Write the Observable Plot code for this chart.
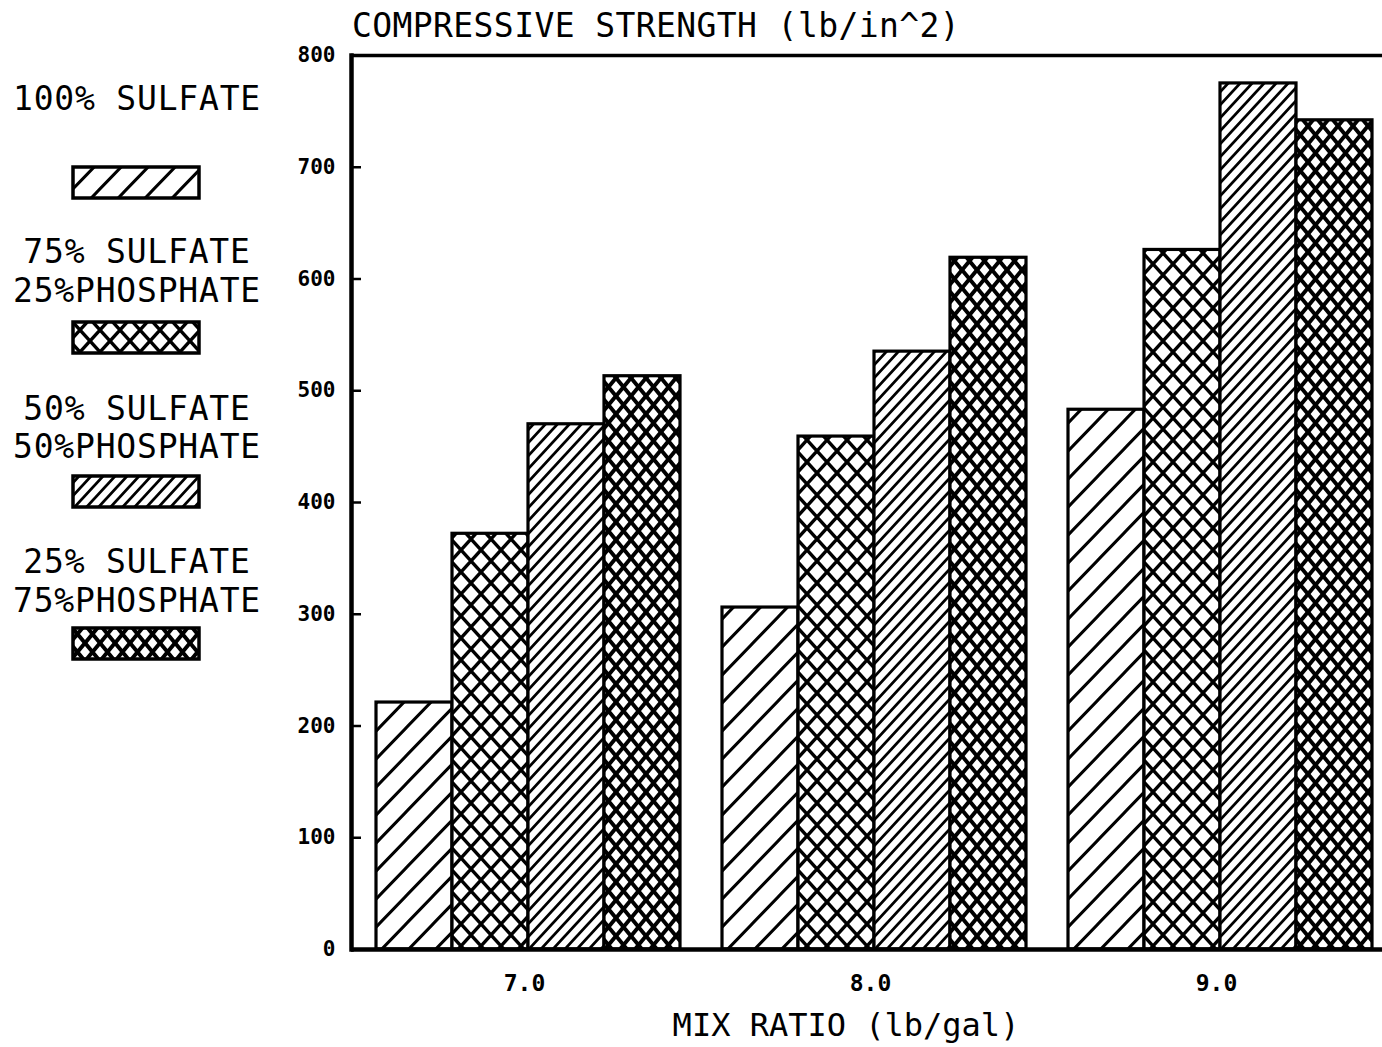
<!DOCTYPE html>
<html>
<head>
<meta charset="utf-8">
<script src="https://cdn.jsdelivr.net/npm/d3@7"></script>
<script src="https://cdn.jsdelivr.net/npm/@observablehq/plot@0.6"></script>
<style>
  html, body { margin: 0; padding: 0; background: #fff; overflow: hidden; }
  #wrap { position: relative; width: 1382px; height: 1047px; overflow: hidden; background: #fff;
          font-family: "DejaVu Sans Mono", monospace; color: #000; }
  #chart { position: absolute; left: 0; top: 0; }
  #chart svg { max-width: none !important; }
  .txt { position: absolute; font-size: 33px; line-height: 33px; white-space: pre; }
  .sw { position: absolute; }
</style>
</head>
<body>
<svg width="0" height="0" style="position:absolute">
  <defs id="defs"></defs>
</svg>
<div id="wrap">
  <div id="chart"></div>
</div>
<script>
// ---- data ----
const groups = ["7.0", "8.0", "9.0"];
const seriesNames = [
  "100% SULFATE",
  "75% SULFATE\n25%PHOSPHATE",
  "50% SULFATE\n50%PHOSPHATE",
  "25% SULFATE\n75%PHOSPHATE"
];
const sulfate100 = [221, 306, 483];
const sulfate75 = [372, 459, 626];
const sulfate50 = [470, 535, 775];
const sulfate25 = [513, 619, 742];
const yTicks = [0, 100, 200, 300, 400, 500, 600, 700, 800];
const titleText = "COMPRESSIVE STRENGTH (lb/in^2)";
const xLabelText = "MIX RATIO (lb/gal)";

const seriesValues = [sulfate100, sulfate75, sulfate50, sulfate25];
const data = groups.flatMap((g, i) =>
  seriesNames.map((s, j) => ({group: g, series: s, value: seriesValues[j][i]}))
);

// ---- hatch patterns ----
const patterns = [
  {id: "p1", h: 27, v: 28, sw: 3, cross: false},
  {id: "p2", h: 20, v: 22, sw: 3.4, cross: true},
  {id: "p3", h: 12, v: 13, sw: 2.8, cross: false},
  {id: "p4", h: 15, v: 18, sw: 4, cross: true}
];
const defs = document.getElementById("defs");
const ns = "http://www.w3.org/2000/svg";
for (const p of patterns) {
  const pat = document.createElementNS(ns, "pattern");
  pat.setAttribute("id", p.id);
  pat.setAttribute("patternUnits", "userSpaceOnUse");
  pat.setAttribute("width", p.h);
  pat.setAttribute("height", p.v);
  const {h, v} = p;
  let d = `M0,${v}L${h},0M${-h/2},${v/2}L${h/2},${-v/2}M${h/2},${3*v/2}L${3*h/2},${v/2}`;
  if (p.cross) d += `M0,0L${h},${v}M${h/2},${-v/2}L${3*h/2},${v/2}M${-h/2},${v/2}L${h/2},${3*v/2}`;
  const bg = document.createElementNS(ns, "rect");
  bg.setAttribute("width", h); bg.setAttribute("height", v); bg.setAttribute("fill", "#fff");
  const path = document.createElementNS(ns, "path");
  path.setAttribute("d", d);
  path.setAttribute("stroke", "#000");
  path.setAttribute("stroke-width", p.sw);
  path.setAttribute("fill", "none");
  pat.appendChild(bg); pat.appendChild(path);
  defs.appendChild(pat);
}
const fills = patterns.map(p => `url(#${p.id})`);

// ---- chart ----
const chart = Plot.plot({
  width: 1390,
  height: 1047,
  marginLeft: 350,
  marginRight: 0,
  marginTop: 55,
  marginBottom: 98,
  style: {background: "transparent", fontFamily: "DejaVu Sans Mono", color: "#000", overflow: "visible"},
  fx: {domain: groups, padding: 0, label: null},
  x: {domain: seriesNames, paddingInner: 0, paddingOuter: 0.272, align: 0.6, axis: null},
  y: {domain: [0, 800], label: null},
  color: {domain: seriesNames, range: fills},
  marks: [
    Plot.barY(data, {fx: "group", x: "series", y: "value", fill: "series", stroke: "#000", strokeWidth: 3.2}),
    Plot.ruleY([0], {stroke: "#000", strokeWidth: 4.5}),
    Plot.ruleY([800], {stroke: "#000", strokeWidth: 3.5}),
    Plot.frame({anchor: "left", facetAnchor: "left", stroke: "#000", strokeWidth: 4.5}),
    Plot.axisY({ticks: yTicks, tickSize: -10, tickPadding: 26, strokeWidth: 2.5,
      fontSize: 21, fontWeight: "bold", tickFormat: d => String(d), label: null}),
    Plot.axisFx({anchor: "bottom", tickSize: 0, tickPadding: 25, fontSize: 23, fontWeight: "bold", label: null})
  ]
});
chart.style.maxWidth = "none";
document.getElementById("chart").appendChild(chart);

// ---- texts and legend ----
const wrap = document.getElementById("wrap");
function addText(str, left, top, width, align, size, spacing) {
  const el = document.createElement("div");
  el.className = "txt";
  el.textContent = str;
  el.style.left = left + "px";
  el.style.top = top + "px";
  if (width) el.style.width = width + "px";
  el.style.textAlign = align;
  if (size) { el.style.fontSize = size + "px"; el.style.lineHeight = size + "px"; }
  if (spacing) el.style.letterSpacing = spacing + "px";
  wrap.appendChild(el);
  return el;
}
addText(titleText, 352, 9, null, "left", 33, 0.4);
addText(xLabelText, 646, 1009, 400, "center", 32, 0);

const legendBaselines = [[110], [263, 302], [420, 458], [573, 612]];
const swatchTops = [167, 322, 476, 628];
seriesNames.forEach((name, i) => {
  const lines = name.split("\n");
  lines.forEach((ln, k) => addText(ln, 0, legendBaselines[i][k] - 28, 274, "center", 33, 0.8));
  const sw = document.createElementNS(ns, "svg");
  sw.setAttribute("class", "sw");
  sw.setAttribute("width", 132);
  sw.setAttribute("height", 38);
  sw.style.left = "70px";
  sw.style.top = (swatchTops[i] - 3) + "px";
  const r = document.createElementNS(ns, "rect");
  r.setAttribute("x", 3); r.setAttribute("y", 3);
  r.setAttribute("width", 126); r.setAttribute("height", 31);
  r.setAttribute("fill", fills[i]);
  r.setAttribute("stroke", "#000");
  r.setAttribute("stroke-width", 3.5);
  sw.appendChild(r);
  wrap.appendChild(sw);
});
</script>
</body>
</html>
